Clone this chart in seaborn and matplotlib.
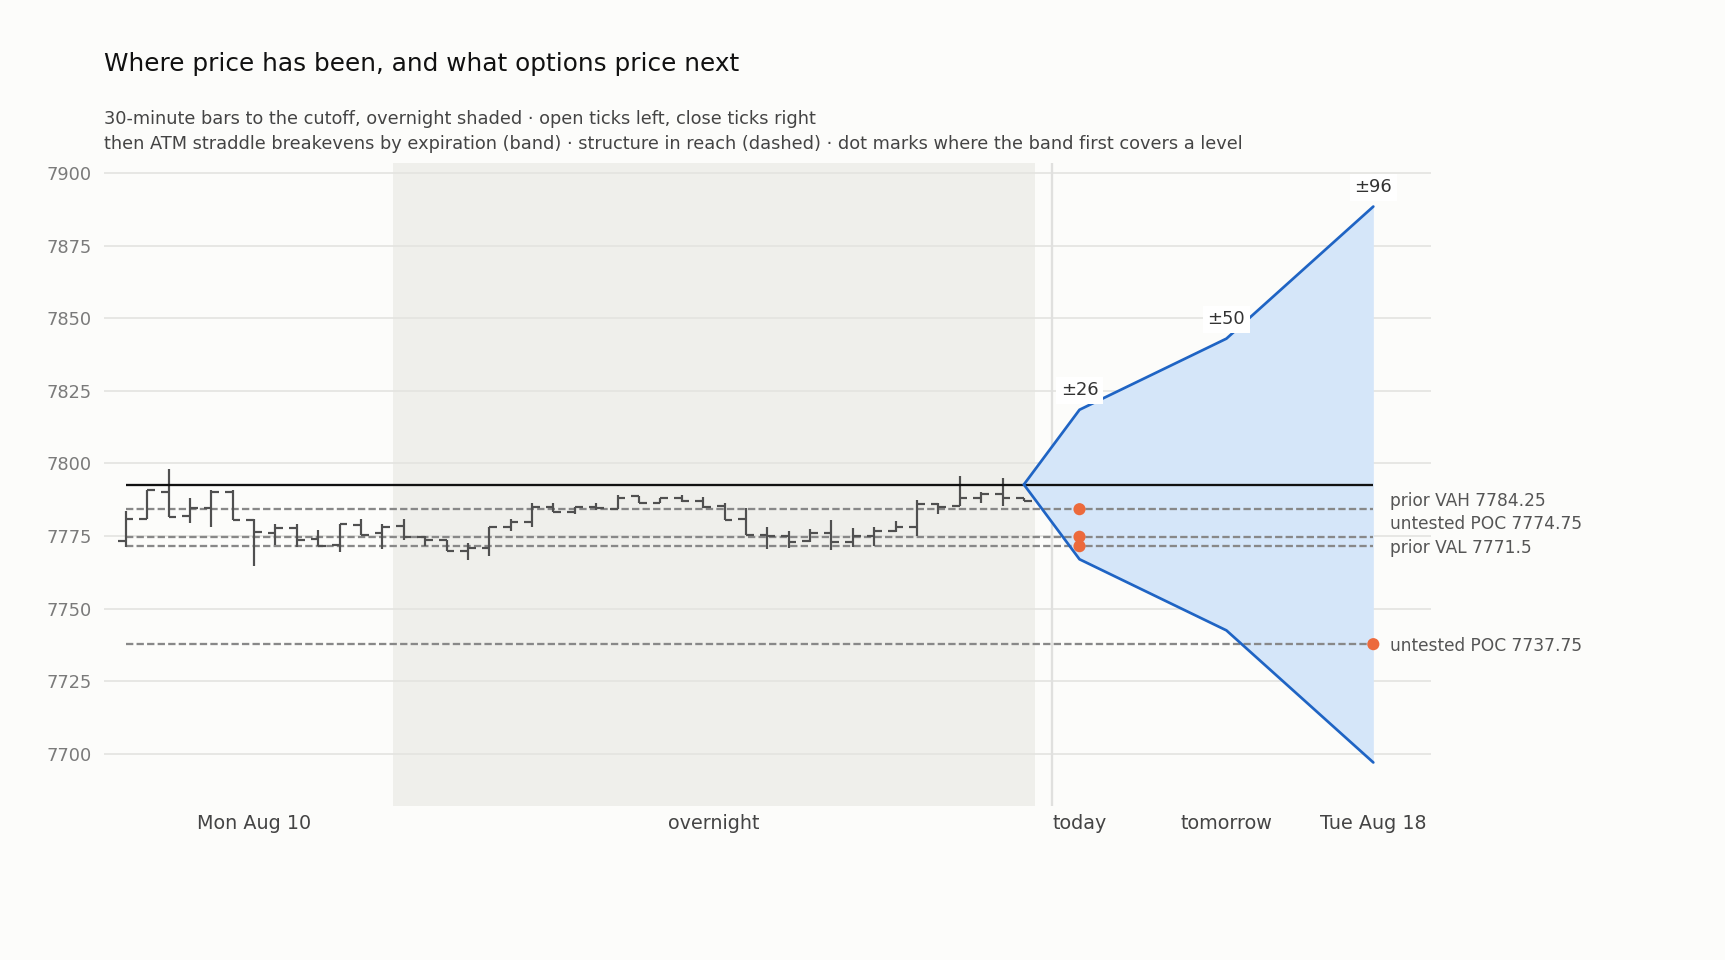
import numpy as np
import pandas as pd
import seaborn as sns
import matplotlib.pyplot as plt

# 30-minute bars: Mon Aug 10 regular session, then the overnight session
bar_open = [7773.25, 7780.75, 7790.25, 7782.0, 7784.5, 7790.25, 7780.5, 7776.0, 7777.75, 7774.0,
            7771.75, 7778.75, 7776.0, 7778.5, 7774.75, 7773.5, 7770.0, 7770.75, 7778.0, 7779.75,
            7785.0, 7783.25, 7785.0, 7784.25, 7788.75, 7786.5, 7788.0, 7787.0, 7785.25, 7780.75,
            7775.25, 7775.0, 7773.25, 7776.0, 7773.0, 7775.0, 7776.75, 7778.0, 7786.0, 7785.25,
            7788.25, 7789.5, 7788.25]
bar_high = [7783.5, 7790.75, 7798.0, 7788.25, 7790.75, 7790.75, 7780.75, 7779.0, 7779.0, 7777.25,
            7779.25, 7781.0, 7779.25, 7781.0, 7775.0, 7773.75, 7772.75, 7778.0, 7780.75, 7786.25,
            7786.5, 7785.0, 7786.5, 7789.25, 7788.75, 7788.0, 7789.25, 7788.5, 7786.25, 7784.5,
            7778.25, 7776.75, 7777.5, 7780.5, 7777.75, 7778.25, 7780.25, 7787.5, 7786.25, 7795.75,
            7790.25, 7795.0, 7788.25]
bar_low = [7771.25, 7780.75, 7781.5, 7779.5, 7778.25, 7780.5, 7764.75, 7771.75, 7771.25, 7771.5,
           7769.5, 7775.5, 7770.5, 7773.75, 7771.5, 7769.75, 7766.75, 7768.0, 7776.75, 7778.25,
           7783.25, 7782.75, 7784.0, 7784.25, 7786.5, 7786.25, 7786.75, 7784.75, 7780.5, 7775.25,
           7770.5, 7770.75, 7773.0, 7770.25, 7771.25, 7771.5, 7776.5, 7775.0, 7782.75, 7785.25,
           7786.25, 7785.25, 7787.0]
bar_close = [7780.75, 7790.75, 7781.5, 7784.5, 7790.25, 7780.5, 7776.5, 7777.75, 7773.75, 7771.5,
             7779.0, 7775.5, 7778.0, 7774.75, 7773.5, 7770.0, 7770.75, 7778.0, 7779.75, 7785.0,
             7783.25, 7785.0, 7784.75, 7788.25, 7786.5, 7788.0, 7787.0, 7785.0, 7780.5, 7775.5,
             7775.0, 7773.0, 7776.0, 7773.0, 7775.0, 7776.75, 7778.0, 7786.0, 7785.0, 7788.25,
             7789.5, 7788.25, 7787.0]
session_bars = 13  # Mon Aug 10 regular session, the rest is overnight

spot = 7792.75
expiries = ['today', 'tomorrow', 'Tue Aug 18']
straddle = [25.75, 50.25, 95.75]

level_names = ['prior VAH', 'untested POC', 'prior VAL', 'untested POC']
level_prices = [7784.25, 7774.75, 7771.5, 7737.75]

BG = '#fcfcfa'
BAR = '#505050'
BLUE = '#1f64c4'
FILL = '#d5e6f9'
ORANGE = '#ec6a3c'

sns.set_theme(style='whitegrid', rc={
    'axes.facecolor': BG, 'figure.facecolor': BG,
    'grid.color': '#e3e3e0', 'grid.linewidth': 0.8,
    'axes.edgecolor': BG,
})
plt.rcParams['font.family'] = ['DejaVu Sans']

bars = pd.DataFrame({'open': bar_open, 'high': bar_high, 'low': bar_low, 'close': bar_close})
bars['x'] = np.arange(len(bars))
last = bars['x'].iloc[-1]

# expiries sit to the right of the cutoff, evenly spaced
exp_x = last + 2.6 + 6.87 * np.arange(len(expiries))
cut_x = last + 1.3

fig = plt.figure(figsize=(11.5, 6.4), dpi=150)
ax = fig.add_axes([0.0605, 0.1604, 0.7691, 0.6698])

ax.axvspan(session_bars - 0.5, last + 0.5, color='#efefeb', lw=0, zorder=0)
ax.axvline(cut_x, color='#e0e0de', lw=1.1, zorder=1)

# OHLC bars
tick = 0.36
ax.vlines(bars['x'], bars['low'], bars['high'], color=BAR, lw=1.05, zorder=3)
ax.hlines(bars['open'], bars['x'] - tick, bars['x'], color=BAR, lw=1.05, zorder=3)
ax.hlines(bars['close'], bars['x'], bars['x'] + tick, color=BAR, lw=1.05, zorder=3)

x_end = exp_x[-1]
ax.hlines(spot, 0, x_end, color='#111111', lw=1.1, zorder=4)
for p in level_prices:
    ax.hlines(p, 0, x_end, color='#888888', lw=1.1, linestyles=(0, (3.2, 1.4)), zorder=2)

# straddle band
fan = pd.DataFrame({
    'x': np.r_[last, exp_x],
    'upper': spot + np.r_[0, straddle],
    'lower': spot - np.r_[0, straddle],
})
ax.fill_between(fan['x'], fan['lower'], fan['upper'], color=FILL, lw=0, zorder=1.5)
sns.lineplot(data=fan, x='x', y='upper', color=BLUE, lw=1.3, ax=ax, zorder=5)
sns.lineplot(data=fan, x='x', y='lower', color=BLUE, lw=1.3, ax=ax, zorder=5)

for x, m in zip(exp_x, straddle):
    ax.annotate(f'±{m:.0f}', (x, spot + m), xytext=(0, 5), textcoords='offset points',
                ha='center', va='bottom', fontsize=8.6, color='#333333', zorder=6,
                bbox=dict(boxstyle='square,pad=0.25', fc='white', ec='none'))

# first expiry whose band covers each level
dot_x, dot_y = [], []
for p in level_prices:
    for x, m in zip(exp_x, straddle):
        if spot - m <= p <= spot + m:
            dot_x.append(x)
            dot_y.append(p)
            break
sns.scatterplot(x=dot_x, y=dot_y, color=ORANGE, s=34, edgecolor='none', ax=ax, zorder=7)

# level labels, nudged apart
order = np.argsort(level_prices)
label_y = {}
prev = -np.inf
for i in order:
    y = max(level_prices[i], prev + 8.2)
    label_y[i] = y
    prev = y
for i, (name, p) in enumerate(zip(level_names, level_prices)):
    ax.annotate(f'{name} {p:g}', (x_end, label_y[i]), xytext=(8, -1), textcoords='offset points',
                ha='left', va='center', fontsize=8.2, color='#555555', annotation_clip=False)

lo = spot - max(straddle)
hi = spot + max(straddle)
ax.set_ylim(lo - 15, hi + 15)
ax.set_xlim(-1, x_end + 2.7)
ax.set_yticks(np.arange(7700, 7901, 25))
ax.set_xticks([(session_bars - 1) / 2, (session_bars + last) / 2, *exp_x])
ax.set_xticklabels(['Mon Aug 10', 'overnight', *expiries])
ax.grid(axis='x', visible=False)
ax.tick_params(axis='x', length=0, pad=4, labelsize=9.2, labelcolor='#444444')
ax.tick_params(axis='y', length=0, pad=6, labelsize=8.5, labelcolor='#7a7a7a')
ax.set_xlabel('')
ax.set_ylabel('')
for s in ax.spines.values():
    s.set_visible(False)

fig.text(0.0605, 1 - 70.7 / 960, 'Where price has been, and what options price next',
         fontsize=11.9, color='#111111', va='baseline')
fig.text(0.0605, 1 - 124 / 960,
         '30-minute bars to the cutoff, overnight shaded · open ticks left, close ticks right',
         fontsize=8.55, color='#444444', va='baseline')
fig.text(0.0605, 1 - 149 / 960,
         'then ATM straddle breakevens by expiration (band) · structure in reach (dashed) · '
         'dot marks where the band first covers a level',
         fontsize=8.55, color='#444444', va='baseline')

fig.savefig('out.png', dpi=150, facecolor=BG)
